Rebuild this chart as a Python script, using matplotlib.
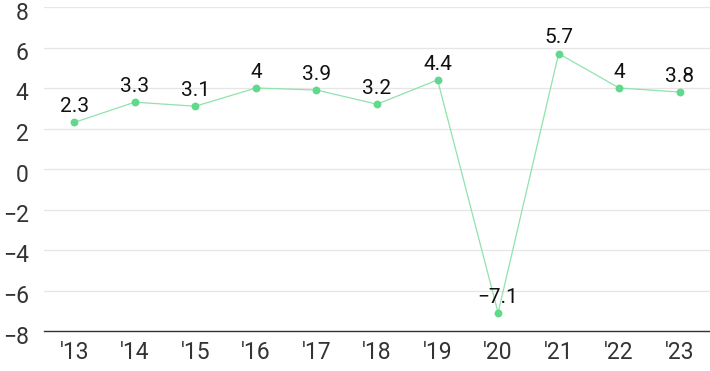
import matplotlib
matplotlib.use("Agg")
from matplotlib import pyplot as plt
from matplotlib.transforms import ScaledTranslation

# Dados
years = ["'13", "'14", "'15", "'16", "'17", "'18", "'19", "'20", "'21", "'22", "'23"]
growth = [2.3, 3.3, 3.1, 4, 3.9, 3.2, 4.4, -7.1, 5.7, 4, 3.8]
labels = ["2.3", "3.3", "3.1", "4", "3.9", "3.2", "4.4", "\u22127.1", "5.7", "4", "3.8"]
y_ticks = [-8, -6, -4, -2, 0, 2, 4, 6, 8]

plt.rcParams['font.family'] = ['Roboto', 'DejaVu Sans']

fig = plt.figure(figsize=(7.1, 3.71), dpi=100)
ax = fig.add_axes([44 / 710, 1 - 331 / 371, 1 - 44 / 710, (331 - 7) / 371])

x = list(range(len(years)))
ax.plot(x, growth, color='#8fe3ac', linewidth=0.9, zorder=3)
ax.scatter(x, growth, s=32, color='#5fd98b', zorder=4, linewidths=0)

for xi, value, text in zip(x, growth, labels):
    ax.annotate(text, (xi, value), xytext=(0, 4.5), textcoords='offset points',
                ha='center', va='bottom', fontsize=15, color='#111111', zorder=5)

ax.set_xlim(-0.5, len(years) - 0.5)
ax.set_ylim(-8, 8)
ax.set_yticks(y_ticks)
ax.set_yticklabels([str(t).replace('-', '\u2212') for t in y_ticks])
ax.set_xticks(x)
ax.set_xticklabels(years)

ax.grid(axis='y', color='#e6e6e6', linewidth=0.9, zorder=0)
for side in ['top', 'right', 'left']:
    ax.spines[side].set_visible(False)
ax.spines['bottom'].set_color('#333333')
ax.spines['bottom'].set_linewidth(1.0)
ax.spines['bottom'].set_zorder(2)
ax.tick_params(axis='both', length=0, labelsize=16.5, colors='#333333')
ax.tick_params(axis='y', pad=11)
ax.tick_params(axis='x', pad=7)

# rotulos do eixo y um pouco abaixo da linha de grade
shift = ScaledTranslation(0, -3.5 / 100, fig.dpi_scale_trans)
for lbl in ax.get_yticklabels():
    lbl.set_transform(lbl.get_transform() + shift)

fig.savefig('out.png', dpi=100)
